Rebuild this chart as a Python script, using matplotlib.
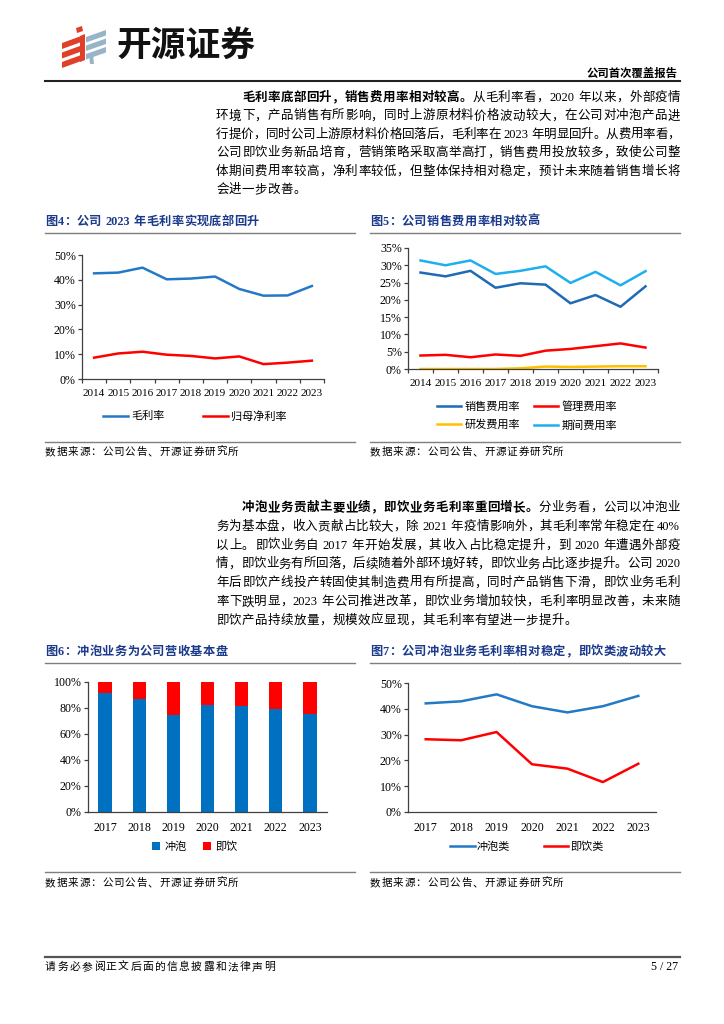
import matplotlib
matplotlib.use("Agg")
import matplotlib.pyplot as plt
import numpy as np
from matplotlib.ticker import PercentFormatter, FixedLocator
from matplotlib.patches import Polygon
from matplotlib.lines import Line2D

# ---------------- data ----------------
years_a = ["2014", "2015", "2016", "2017", "2018", "2019", "2020", "2021", "2022", "2023"]
gross_margin = [42.6, 42.9, 44.9, 40.2, 40.5, 41.3, 36.3, 33.6, 33.7, 37.5]
net_margin = [8.6, 10.3, 11.0, 9.8, 9.3, 8.3, 9.1, 6.0, 6.6, 7.4]

sales_exp = [27.9, 26.8, 28.4, 23.5, 24.8, 24.4, 19.0, 21.4, 18.0, 23.9]
admin_exp = [3.9, 4.1, 3.4, 4.2, 3.8, 5.3, 5.8, 6.6, 7.4, 6.2]
rd_exp = [0.0, 0.0, 0.0, 0.0, 0.2, 0.7, 0.6, 0.7, 0.8, 0.8]
period_exp = [31.4, 30.0, 31.4, 27.5, 28.4, 29.7, 24.9, 28.1, 24.2, 28.3]

years_b = ["2017", "2018", "2019", "2020", "2021", "2022", "2023"]
brew_share = [91.8, 87.1, 74.6, 82.5, 81.2, 79.4, 75.1]
rtd_share = [100 - v for v in brew_share]
brew_gm = [42.1, 42.9, 45.6, 41.0, 38.6, 41.0, 45.0]
rtd_gm = [28.2, 27.8, 31.0, 18.5, 16.8, 11.6, 18.7]

legend4 = ["毛利率", "归母净利率"]
legend5 = ["销售费用率", "管理费用率", "研发费用率", "期间费用率"]
legend6 = ["冲泡", "即饮"]
legend7 = ["冲泡类", "即饮类"]

titles = ["图4：公司 2023 年毛利率实现底部回升",
          "图5：公司销售费用率相对较高",
          "图6：冲泡业务为公司营收基本盘",
          "图7：公司冲泡业务毛利率相对稳定，即饮类波动较大"]
source = "数据来源：公司公告、开源证券研究所"

para1 = ["毛利率底部回升，销售费用率相对较高。从毛利率看，2020 年以来，外部疫情",
         "环境下，产品销售有所影响，同时上游原材料价格波动较大，在公司对冲泡产品进",
         "行提价，同时公司上游原材料价格回落后，毛利率在 2023 年明显回升。从费用率看，",
         "公司即饮业务新品培育，营销策略采取高举高打，销售费用投放较多，致使公司整",
         "体期间费用率较高，净利率较低，但整体保持相对稳定，预计未来随着销售增长将",
         "会进一步改善。"]
para1_bold = len("毛利率底部回升，销售费用率相对较高。")
para2 = ["冲泡业务贡献主要业绩，即饮业务毛利率重回增长。分业务看，公司以冲泡业",
         "务为基本盘，收入贡献占比较大，除 2021 年疫情影响外，其毛利率常年稳定在 40%",
         "以上。即饮业务自 2017 年开始发展，其收入占比稳定提升，到 2020 年遭遇外部疫",
         "情，即饮业务有所回落，后续随着外部环境好转，即饮业务占比逐步提升。公司 2020",
         "年后即饮产线投产转固使其制造费用有所提高，同时产品销售下滑，即饮业务毛利",
         "率下跌明显，2023 年公司推进改革，即饮业务增加较快，毛利率明显改善，未来随",
         "即饮产品持续放量，规模效应显现，其毛利率有望进一步提升。"]
para2_bold = len("冲泡业务贡献主要业绩，即饮业务毛利率重回增长。")

# ---------------- setup ----------------
FAM = ["Liberation Serif", "Noto Sans CJK SC", "DejaVu Sans"]
CJK = ["Noto Sans CJK SC", "DejaVu Sans"]
plt.rcParams["font.family"] = FAM
plt.rcParams["axes.unicode_minus"] = False

W, H = 724, 1024
fig = plt.figure(figsize=(W / 100, H / 100), dpi=100)
renderer = fig.canvas.get_renderer()

NAVY = "#1B3A8C"
BLUE = "#2479C6"
DBLUE = "#1F6AB4"
LBLUE = "#1DB0EE"
RED = "#FF0000"
ORANGE = "#FFC000"
AXC = "#404040"


def fx(x):
    return x / W


def fy(y):
    return 1 - y / H


def hline(x0, x1, y, lw=1.0, color="#808080"):
    fig.add_artist(Line2D([fx(x0), fx(x1)], [fy(y), fy(y)], transform=fig.transFigure,
                          color=color, lw=lw))


def poly(pts, color):
    fig.add_artist(Polygon([(fx(a), fy(b)) for a, b in pts], closed=True,
                           transform=fig.transFigure, facecolor=color, edgecolor="none"))


def tokenize(s):
    toks, run = [], ""
    for ch in s:
        if ord(ch) < 128 and ch != " ":
            run += ch
        else:
            if run:
                toks.append(run)
                run = ""
            toks.append(ch)
    if run:
        toks.append(run)
    return toks


def spaced_text(s, x0, y, fs, family, gap, weight="normal", color="black"):
    x = x0
    for tok in tokenize(s):
        if tok == " ":
            x += fs * 100 / 72 * 0.25 + gap
            continue
        t = fig.text(fx(x), fy(y), tok, fontsize=fs, family=family, weight=weight,
                     va="center", ha="left", color=color)
        x += t.get_window_extent(renderer).width + gap
    return x


def text_line(s, x0, x1, y, fs, bold_n=0, justify=True):
    toks = tokenize(s)
    items = []
    idx = 0
    for tok in toks:
        weight = "bold" if idx < bold_n else "normal"
        idx += len(tok)
        if tok == " ":
            items.append((None, fs * 100 / 72 * 0.25))
            continue
        t = fig.text(0, fy(y), tok, fontsize=fs, family=FAM, weight=weight,
                     va="center", ha="left", color="black")
        w = t.get_window_extent(renderer).width
        items.append((t, w))
    total = sum(w for _, w in items)
    gap = (x1 - x0 - total) / (len(items) - 1) if (justify and len(items) > 1) else 0.4
    x = x0
    for t, w in items:
        if t is not None:
            t.set_x(fx(x))
        x += w + gap


def paragraph(lines, y0, dy, bold_n):
    for i, line in enumerate(lines):
        x0 = 242 if i == 0 else 216
        text_line(line, x0, 680, y0 + i * dy, 9, bold_n=bold_n if i == 0 else 0,
                  justify=(i < len(lines) - 1))


def add_axes(l, t, r, b):
    ax = fig.add_axes([fx(l), fy(b), (r - l) / W, (b - t) / H])
    for s in ["top", "right"]:
        ax.spines[s].set_visible(False)
    for s in ["left", "bottom"]:
        ax.spines[s].set_color(AXC)
        ax.spines[s].set_linewidth(0.9)
    ax.tick_params(axis="both", colors=AXC, labelcolor="black", labelsize=8.6, width=0.9)
    ax.tick_params(axis="y", length=3, direction="out", pad=1.5)
    return ax


def cat_xaxis(ax, labels, between_ticks=True, fs=8.6):
    n = len(labels)
    ax.set_xlim(-0.5, n - 0.5)
    ax.set_xticks(np.arange(n))
    ax.set_xticklabels(labels, fontsize=fs)
    ax.tick_params(axis="x", which="major", length=0, pad=7)
    if between_ticks:
        ax.xaxis.set_minor_locator(FixedLocator(np.arange(n + 1) - 0.5))
        ax.tick_params(axis="x", which="minor", length=3, direction="out", color=AXC, width=0.9)


def chart_frame(title, x0, x1, ytitle, yline, ybot, ysrc):
    spaced_text(title, x0, ytitle, 8.8, FAM, 0.35, weight="bold", color=NAVY)
    hline(x0, x1, yline, lw=1.0, color="#7F7F7F")
    hline(x0, x1, ybot, lw=1.0, color="#7F7F7F")
    spaced_text(source, x0, ysrc, 7.6, CJK, 0.9)


# ---------------- header ----------------
RLOGO = "#E0402A"
GLOGO = "#98B4C8"
for i in range(3):
    y = 35 + i * 9.5
    poly([(62, y + 8), (84, y), (84, y + 6), (62, y + 14)], RLOGO)
poly([(76, 28), (82, 26), (83, 31), (77, 33)], RLOGO)
poly([(80, 36), (85, 34), (85, 60), (80, 62)], RLOGO)
for i in range(3):
    y = 30 + i * 8.5
    poly([(86, y + 7), (106, y), (106, y + 5.5), (86, y + 12.5)], GLOGO)
poly([(89, 54), (93, 54), (94, 64), (90, 64)], GLOGO)
fig.text(fx(116), fy(45), "开源证券", fontsize=25, weight="bold", family=CJK,
         color="#111111", va="center", ha="left")
fig.text(fx(678), fy(73), "公司首次覆盖报告", fontsize=8.2, weight="bold", family=CJK,
         va="center", ha="right")
hline(45, 680, 80.5, lw=1.5, color="#222222")

# ---------------- paragraphs ----------------
paragraph(para1, 98, 18.4, para1_bold)
paragraph(para2, 508, 18.8, para2_bold)

# ---------------- chart 4 ----------------
chart_frame(titles[0], 45, 355, 222, 233, 442, 452)
ax4 = add_axes(82, 255, 324, 379)
x = np.arange(len(years_a))
l1, = ax4.plot(x, gross_margin, color=BLUE, lw=1.8)
l2, = ax4.plot(x, net_margin, color=RED, lw=1.8)
ax4.set_ylim(0, 50)
ax4.set_yticks(np.arange(0, 51, 10))
ax4.yaxis.set_major_formatter(PercentFormatter(100, decimals=0))
cat_xaxis(ax4, years_a, fs=8.1)
fig.legend([l1, l2], legend4, loc="center", bbox_to_anchor=(fx(195), fy(416)), ncol=2,
           frameon=False, prop={"family": CJK, "size": 8}, handlelength=2.2,
           columnspacing=3.5, handletextpad=0.3)

# ---------------- chart 5 ----------------
chart_frame(titles[1], 370, 680, 222, 233, 442, 452)
ax5 = add_axes(408, 248, 658, 369)
s1, = ax5.plot(x, sales_exp, color=DBLUE, lw=1.8)
s2, = ax5.plot(x, admin_exp, color=RED, lw=1.8)
s3, = ax5.plot(x, rd_exp, color=ORANGE, lw=1.8)
s4, = ax5.plot(x, period_exp, color=LBLUE, lw=1.8)
ax5.set_ylim(0, 35)
ax5.set_yticks(np.arange(0, 36, 5))
ax5.yaxis.set_major_formatter(PercentFormatter(100, decimals=0))
cat_xaxis(ax5, years_a, fs=8.1)
fig.legend([s1, s3, s2, s4], [legend5[0], legend5[2], legend5[1], legend5[3]], loc="center",
           bbox_to_anchor=(fx(527), fy(415.5)), ncol=2, frameon=False,
           prop={"family": CJK, "size": 8}, handlelength=2.2, columnspacing=1.2,
           handletextpad=0.3, labelspacing=0.75)

# ---------------- chart 6 ----------------
chart_frame(titles[2], 45, 355, 652, 663, 872, 883)
ax6 = add_axes(88, 682, 327, 812)
xb = np.arange(len(years_b))
b1 = ax6.bar(xb, brew_share, width=0.39, color="#0070C0")
b2 = ax6.bar(xb, rtd_share, bottom=brew_share, width=0.39, color=RED)
ax6.set_ylim(0, 100)
ax6.set_yticks(np.arange(0, 101, 20))
ax6.yaxis.set_major_formatter(PercentFormatter(100, decimals=0))
cat_xaxis(ax6, years_b, between_ticks=False)
fig.legend([b1, b2], legend6, loc="center", bbox_to_anchor=(fx(195), fy(847)), ncol=2,
           frameon=False, prop={"family": CJK, "size": 8}, handlelength=0.7,
           handleheight=0.7, columnspacing=1.5, handletextpad=0.4)

# ---------------- chart 7 ----------------
chart_frame(titles[3], 370, 680, 652, 663, 872, 883)
ax7 = add_axes(408, 683, 656, 812)
c1, = ax7.plot(xb, brew_gm, color=BLUE, lw=1.8)
c2, = ax7.plot(xb, rtd_gm, color=RED, lw=1.8)
ax7.set_ylim(0, 50)
ax7.set_yticks(np.arange(0, 51, 10))
ax7.yaxis.set_major_formatter(PercentFormatter(100, decimals=0))
cat_xaxis(ax7, years_b, between_ticks=False)
fig.legend([c1, c2], legend7, loc="center", bbox_to_anchor=(fx(527), fy(847)), ncol=2,
           frameon=False, prop={"family": CJK, "size": 8}, handlelength=2.2,
           columnspacing=3.0, handletextpad=0.2)

for ax in [ax4, ax5, ax6, ax7]:
    for lab in ax.get_xticklabels() + ax.get_yticklabels():
        lab.set_family(FAM)

# ---------------- footer ----------------
hline(45, 680, 957, lw=1.6, color="#555555")
spaced_text("请务必参阅正文后面的信息披露和法律声明", 45, 967, 7.8, CJK, 1.3)
fig.text(fx(678), fy(967), "5 / 27", fontsize=8.6, family=FAM, va="center", ha="right")

fig.savefig("out.png", dpi=100, facecolor="white")
